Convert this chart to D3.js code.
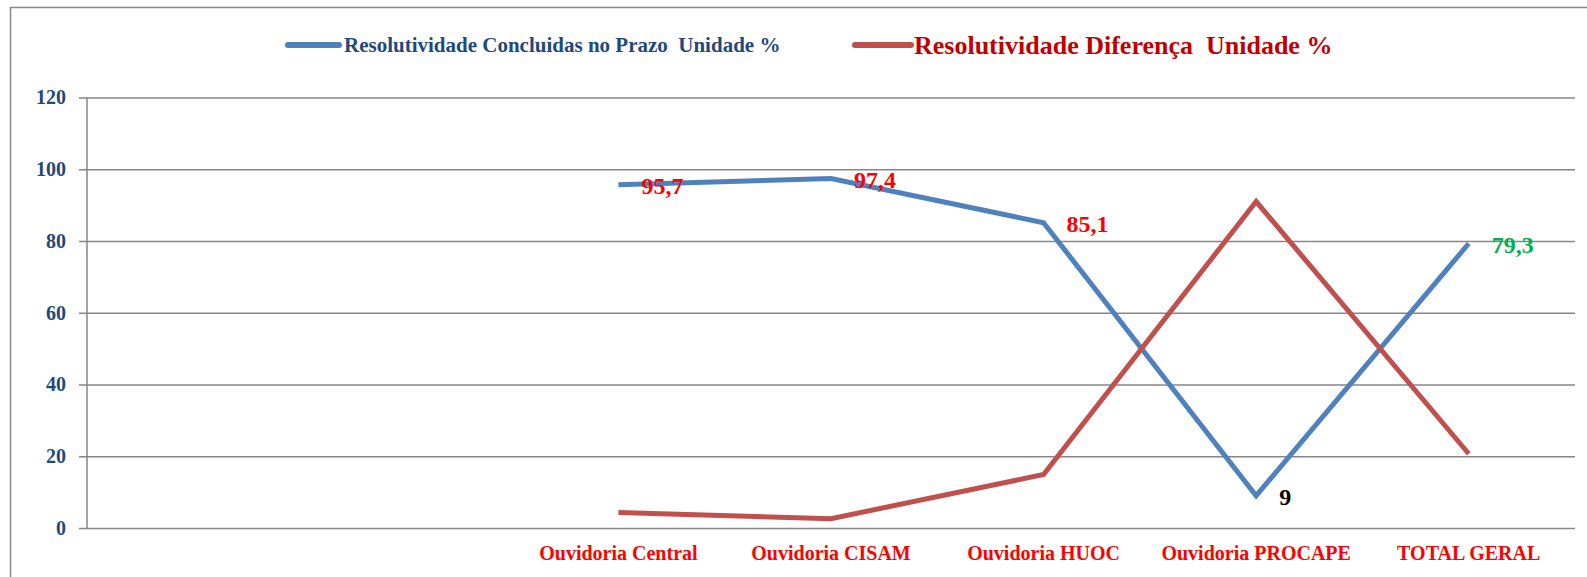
<!DOCTYPE html>
<html>
<head>
<meta charset="utf-8">
<script src="https://cdn.jsdelivr.net/npm/d3@7"></script>
<style>
  html, body { margin: 0; padding: 0; background: #fff; }
  svg { display: block; font-family: "Liberation Serif", "DejaVu Serif", serif; }
</style>
</head>
<body>
<script>
// categories (first two slots are empty in the original)
const categories = ["", "", "Ouvidoria Central", "Ouvidoria CISAM", "Ouvidoria HUOC", "Ouvidoria PROCAPE", "TOTAL GERAL"]
const concluidas = [null, null, 95.7, 97.4, 85.1, 9, 79.3]
const diferenca = [null, null, 4.3, 2.6, 14.9, 91, 20.7]
const labelColors = [null, null, "#ff0000", "#ff0000", "#ff0000", "#000000", "#00b050"]
const yTicks = [0, 20, 40, 60, 80, 100, 120]
const seriesNames = ["Resolutividade Concluidas no Prazo  Unidade %", "Resolutividade Diferença  Unidade %"]

const width = 1587, height = 577
const margin = { top: 97.5, right: 12, bottom: 49, left: 87 }

const svg = d3.select("body").append("svg")
    .attr("width", width)
    .attr("height", height)

// outer frame
svg.append("rect")
    .attr("x", 10.5).attr("y", 7.5)
    .attr("width", width + 20).attr("height", height + 20)
    .attr("fill", "none")
    .attr("stroke", "#868686")
    .attr("stroke-width", 1.5)

const x = d3.scaleBand()
    .domain(d3.range(categories.length))
    .range([margin.left, width - margin.right])

const y = d3.scaleLinear()
    .domain([0, 120])
    .range([height - margin.bottom, margin.top])

// gridlines + y axis
const yAxis = svg.append("g")
    .attr("transform", `translate(${margin.left},0)`)
    .call(d3.axisLeft(y).tickValues(yTicks)
        .tickSizeInner(-(width - margin.left - margin.right)))
yAxis.select(".domain").remove()
yAxis.selectAll(".tick line")
    .attr("x1", -8)
    .attr("stroke", "#868686")
    .attr("stroke-width", 1.5)
yAxis.selectAll(".tick text")
    .attr("x", -21)
    .attr("fill", "#1f497d")
    .attr("font-size", 20)
    .attr("font-weight", "bold")
    .attr("font-family", "Liberation Serif")

svg.append("line")
    .attr("x1", margin.left).attr("x2", margin.left)
    .attr("y1", y(120)).attr("y2", y(0))
    .attr("stroke", "#868686")
    .attr("stroke-width", 1.5)

// x axis labels
const xAxis = svg.append("g")
    .attr("transform", `translate(0,${y(0)})`)
    .call(d3.axisBottom(x).tickFormat(i => categories[i]).tickSize(0).tickPadding(18))
xAxis.select(".domain").remove()
xAxis.selectAll(".tick text")
    .attr("fill", "#ff0000")
    .attr("font-size", 20)
    .attr("font-weight", "bold")
    .attr("font-family", "Liberation Serif")

const cx = i => x(i) + x.bandwidth() / 2

const line = d3.line()
    .defined(d => d.v != null)
    .x(d => cx(d.i))
    .y(d => y(d.v))

const series = [
    { values: concluidas, color: "#4f81bd" },
    { values: diferenca, color: "#c0504d" }
]

svg.append("g")
    .selectAll("path")
    .data(series)
    .join("path")
    .attr("d", s => line(s.values.map((v, i) => ({ v, i }))))
    .attr("fill", "none")
    .attr("stroke", s => s.color)
    .attr("stroke-width", 5)
    .attr("stroke-linejoin", "miter")

// data labels on the blue series
svg.append("g")
    .selectAll("text")
    .data(concluidas.map((v, i) => ({ v, i })).filter(d => d.v != null))
    .join("text")
    .attr("x", d => cx(d.i) + 23)
    .attr("y", d => y(d.v) + 9)
    .attr("fill", d => labelColors[d.i])
    .attr("font-size", 24)
    .attr("font-weight", "bold")
    .text(d => String(d.v).replace(".", ","))

// legend
const legend = [
    { name: seriesNames[0], color: "#4f81bd", text: "#1f497d", size: 21, x0: 288, x1: 339, tx: 344 },
    { name: seriesNames[1], color: "#c0504d", text: "#c00000", size: 26, x0: 855, x1: 911, tx: 914 }
]
const lg = svg.append("g").selectAll("g").data(legend).join("g")
lg.append("line")
    .attr("x1", d => d.x0).attr("x2", d => d.x1)
    .attr("y1", 45).attr("y2", 45)
    .attr("stroke", d => d.color)
    .attr("stroke-width", 6)
    .attr("stroke-linecap", "round")
lg.append("text")
    .attr("x", d => d.tx)
    .attr("y", 45)
    .attr("dy", "0.33em")
    .attr("fill", d => d.text)
    .attr("font-size", d => d.size)
    .attr("font-weight", "bold")
    .style("white-space", "pre")
    .text(d => d.name)
</script>
</body>
</html>
